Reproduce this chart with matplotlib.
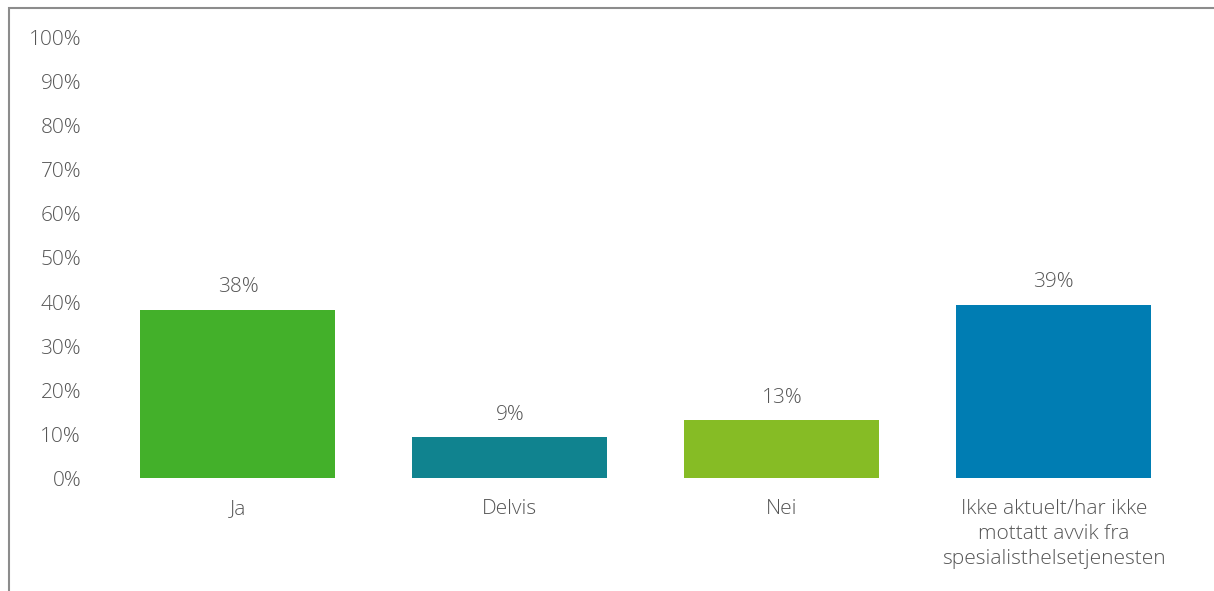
import matplotlib
matplotlib.use("Agg")
import matplotlib.pyplot as plt
import matplotlib.patches as patches
from matplotlib.ticker import PercentFormatter

# Survey answers and their shares
categories = ["Ja", "Delvis", "Nei",
              "Ikke aktuelt/har ikke\nmottatt avvik fra\nspesialisthelsetjenesten"]
shares = [0.382, 0.093, 0.132, 0.394]
bar_colors = ["#43B02A", "#10838F", "#86BC25", "#007DB3"]
y_ticks = [0.0, 0.1, 0.2, 0.3, 0.4, 0.5, 0.6, 0.7, 0.8, 0.9, 1.0]

text_color = "#555555"
plt.rcParams["font.family"] = ["Open Sans", "DejaVu Sans"]
plt.rcParams["font.weight"] = "light"

fig = plt.figure(figsize=(12.14, 5.91), dpi=100)
ax = fig.add_axes([0.084, 0.191, 0.896, 0.745])

x = range(len(categories))
ax.bar(x, shares, width=0.717, color=bar_colors)

for xi, v in zip(x, shares):
    ax.annotate(f"{v:.0%}", (xi, v), xytext=(0, 9), textcoords="offset points",
                ha="center", va="bottom", fontsize=15, color=text_color)

ax.set_xlim(-0.5, 3.5)
ax.set_ylim(0, 1)
ax.set_yticks(y_ticks)
ax.yaxis.set_major_formatter(PercentFormatter(1.0, decimals=0))
ax.set_xticks(list(x))
ax.set_xticklabels(categories, linespacing=1.32)
ax.tick_params(axis="both", length=0, labelsize=15, labelcolor=text_color)
ax.tick_params(axis="y", pad=15)
ax.tick_params(axis="x", pad=15)
for s in ax.spines.values():
    s.set_visible(False)

# chart area frame
frame = patches.Rectangle((9 / 1214, -0.1), 1.2, 1.1 - 8 / 591, transform=fig.transFigure,
                          fill=False, edgecolor="#8C8C8C", linewidth=1.5)
fig.add_artist(frame)

fig.savefig("out.png", dpi=100)
